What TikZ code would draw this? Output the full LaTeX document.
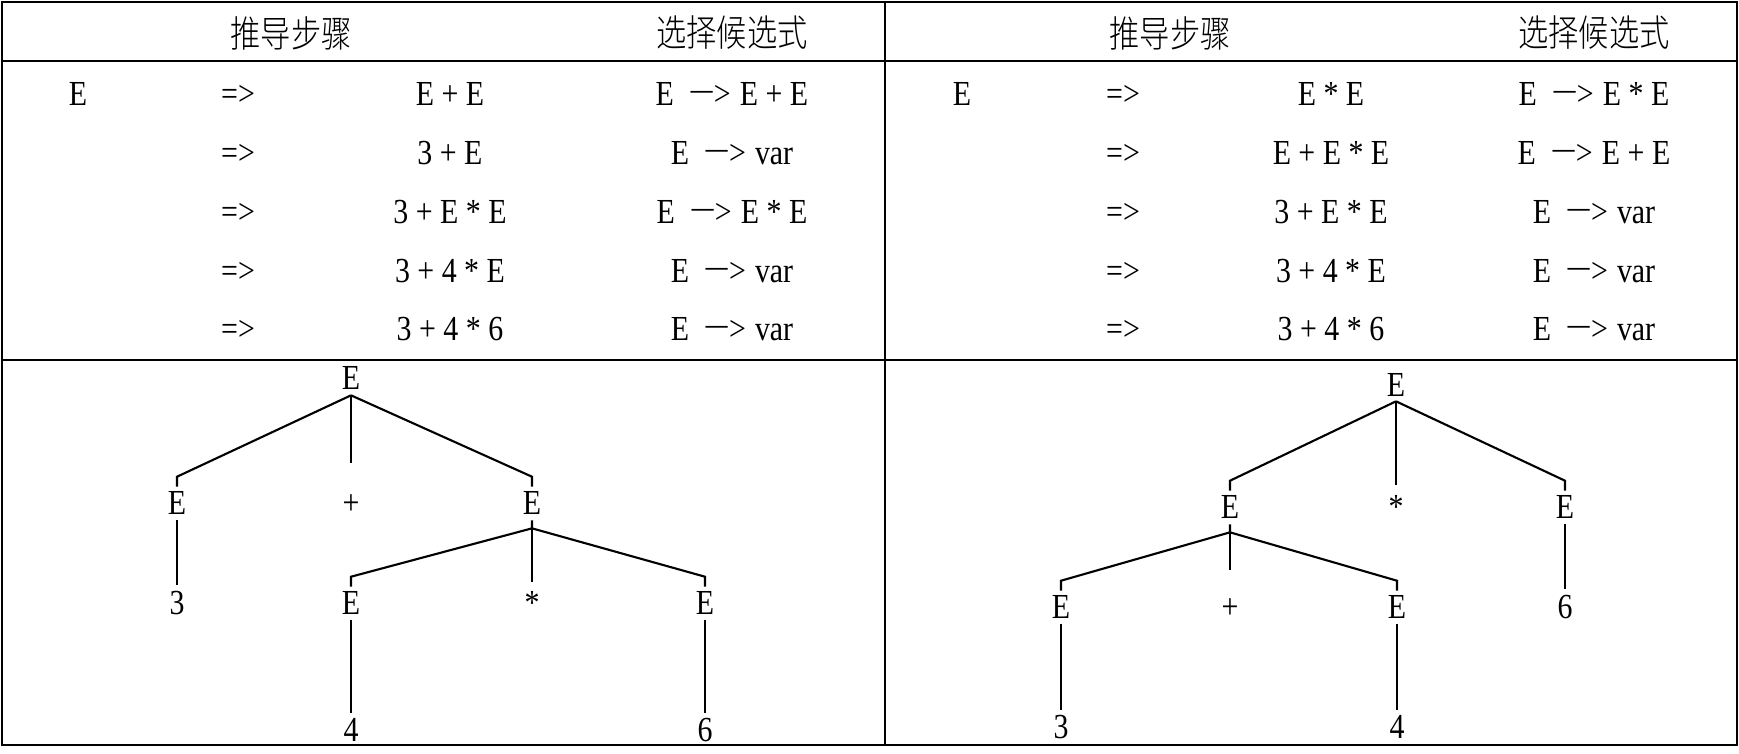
\documentclass[tikz,border=0pt]{standalone}
\usepackage{fontspec}
\setmainfont{Liberation Serif}[FakeStretch=0.85]
\newfontfamily\cjk{Noto Sans CJK SC}[UprightFont={* Light},FakeStretch=0.82]
\usetikzlibrary{calc}
\newcommand\arr{\hspace{4.8pt}\raisebox{.14em}{\scalebox{1.45}[1]{–}}\kern.4pt>\hspace{2.6pt}}
\begin{document}
\begin{tikzpicture}[x=0.01cm,y=-0.01cm,
  tbl/.style={line width=0.65pt},
  edge/.style={line width=0.6pt},
  lbl/.style={inner sep=0pt, font=\fontsize{10}{12}\selectfont, text height=6.6pt, text depth=0pt},
  hdr/.style={inner sep=0pt, font=\cjk\fontsize{10.5}{12}\selectfont}]
\useasboundingbox (0,0) rectangle (1739,753);
% table
\draw[tbl] (2,2) rectangle (1737,745);
\draw[tbl] (885,2) -- (885,745);
\draw[tbl] (2,61) -- (1737,61);
\draw[tbl] (2,360) -- (1737,360);
% headers
\node[hdr] (h1) at (291,33) {推导步骤};
\node[hdr] (h2) at (732,33) {选择候选式};
\node[hdr] (h3) at (1170,33) {推导步骤};
\node[hdr] (h4) at (1594,33) {选择候选式};
% left rows
\node[lbl] (l0) at (78,94) {E};
\node[lbl] (l1a) at (238,94) {=>};
\node[lbl] (l1d) at (450,94) {E + E};
\node[lbl] (l1c) at (732,94) {E\arr E + E};
\node[lbl] (l2a) at (238,153) {=>};
\node[lbl] (l2d) at (450,153) {3 + E};
\node[lbl] (l2c) at (732,153) {E\arr var};
\node[lbl] (l3a) at (238,212) {=>};
\node[lbl] (l3d) at (450,212) {3 + E * E};
\node[lbl] (l3c) at (732,212) {E\arr E * E};
\node[lbl] (l4a) at (238,271) {=>};
\node[lbl] (l4d) at (450,271) {3 + 4 * E};
\node[lbl] (l4c) at (732,271) {E\arr var};
\node[lbl] (l5a) at (238,329) {=>};
\node[lbl] (l5d) at (450,329) {3 + 4 * 6};
\node[lbl] (l5c) at (732,329) {E\arr var};
% right rows
\node[lbl] (r0) at (962,94) {E};
\node[lbl] (r1a) at (1123,94) {=>};
\node[lbl] (r1d) at (1331,94) {E * E};
\node[lbl] (r1c) at (1594,94) {E\arr E * E};
\node[lbl] (r2a) at (1123,153) {=>};
\node[lbl] (r2d) at (1331,153) {E + E * E};
\node[lbl] (r2c) at (1594,153) {E\arr E + E};
\node[lbl] (r3a) at (1123,212) {=>};
\node[lbl] (r3d) at (1331,212) {3 + E * E};
\node[lbl] (r3c) at (1594,212) {E\arr var};
\node[lbl] (r4a) at (1123,271) {=>};
\node[lbl] (r4d) at (1331,271) {3 + 4 * E};
\node[lbl] (r4c) at (1594,271) {E\arr var};
\node[lbl] (r5a) at (1123,329) {=>};
\node[lbl] (r5d) at (1331,329) {3 + 4 * 6};
\node[lbl] (r5c) at (1594,329) {E\arr var};
% left tree
\node[lbl] (A) at (351,378) {E};
\node[lbl] (A1) at (177,503) {E};
\node[lbl] (A2) at (351,503) {+};
\node[lbl] (A3) at (532,503) {E};
\node[lbl] (A11) at (177,603) {3};
\node[lbl] (A31) at (351,603) {E};
\node[lbl] (A32) at (532,603) {*};
\node[lbl] (A33) at (705,603) {E};
\node[lbl] (A311) at (351,730) {4};
\node[lbl] (A331) at (705,730) {6};
\draw[edge] ($(A.south)+(0,5)$) -- ($(A1.north)+(0,-14)$) -- ($(A1.north)+(0,-4)$);
\draw[edge] ($(A.south)+(0,5)$) -- ($(A3.north)+(0,-14)$) -- ($(A3.north)+(0,-4)$);
\draw[edge] ($(A.south)+(0,5)$) -- ($(A2.north)+(0,-28)$);
\draw[edge] ($(A3.south)+(0,5)$) -- ($(A3.south)+(0,13)$) -- ($(A31.north)+(0,-14)$) -- ($(A31.north)+(0,-4)$);
\draw[edge] ($(A3.south)+(0,13)$) -- ($(A33.north)+(0,-14)$) -- ($(A33.north)+(0,-4)$);
\draw[edge] ($(A3.south)+(0,13)$) -- ($(A32.north)+(0,-9)$);
\draw[edge] ($(A1.south)+(0,5)$) -- ($(A11.north)+(0,-6)$);
\draw[edge] ($(A31.south)+(0,5)$) -- ($(A311.north)+(0,-5)$);
\draw[edge] ($(A33.south)+(0,5)$) -- ($(A331.north)+(0,-5)$);
% right tree
\node[lbl] (B) at (1396,385) {E};
\node[lbl] (B1) at (1230,507) {E};
\node[lbl] (B2) at (1396,507) {*};
\node[lbl] (B3) at (1565,507) {E};
\node[lbl] (B11) at (1061,607) {E};
\node[lbl] (B12) at (1230,607) {+};
\node[lbl] (B13) at (1397,607) {E};
\node[lbl] (B31) at (1565,607) {6};
\node[lbl] (B111) at (1061,727) {3};
\node[lbl] (B131) at (1397,727) {4};
\draw[edge] ($(B.south)+(0,4)$) -- ($(B1.north)+(0,-14)$) -- ($(B1.north)+(0,-4)$);
\draw[edge] ($(B.south)+(0,4)$) -- ($(B3.north)+(0,-14)$) -- ($(B3.north)+(0,-4)$);
\draw[edge] ($(B.south)+(0,4)$) -- ($(B2.north)+(0,-10)$);
\draw[edge] ($(B1.south)+(0,5)$) -- ($(B1.south)+(0,13)$) -- ($(B11.north)+(0,-14)$) -- ($(B11.north)+(0,-4)$);
\draw[edge] ($(B1.south)+(0,13)$) -- ($(B13.north)+(0,-14)$) -- ($(B13.north)+(0,-4)$);
\draw[edge] ($(B1.south)+(0,13)$) -- ($(B12.north)+(0,-25)$);
\draw[edge] ($(B3.south)+(0,5)$) -- ($(B31.north)+(0,-6)$);
\draw[edge] ($(B11.south)+(0,5)$) -- ($(B111.north)+(0,-5)$);
\draw[edge] ($(B13.south)+(0,5)$) -- ($(B131.north)+(0,-5)$);
\end{tikzpicture}
\end{document}
